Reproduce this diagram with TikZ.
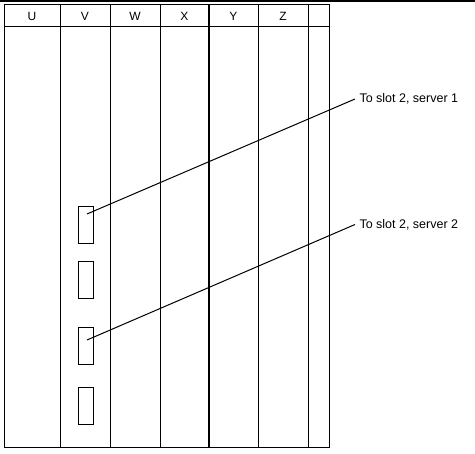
\documentclass[tikz,border=0pt]{standalone}
\usepackage{fontspec}
\setmainfont{Liberation Sans}
\usetikzlibrary{positioning}
\tikzset{
  slotbox/.style={draw, minimum width=15pt, minimum height=37pt, inner sep=0pt},
  lbl/.style={font=\fontsize{12.5}{15}\selectfont, inner ysep=0pt, inner xsep=4pt, anchor=west},
  hdr/.style={font=\fontsize{12}{14}\selectfont, inner sep=0pt},
}
\begin{document}
\begin{tikzpicture}[x=1pt, y=-1pt, line width=1pt]
        \useasboundingbox (0,0) rectangle (475,454);

        % top rule
        \draw[line width=2pt] (0,1) -- (475,1);

        % frame and columns
        \draw (4.5,5) rectangle (329,448);
        \draw (4.5,27) -- (329,27);
        \foreach \x in {60,110,160,258,308}
            \draw (\x,5) -- (\x,448);
        \draw[line width=2pt] (209,5) -- (209,448);

        % column heads
        \foreach \t/\x in {U/32,V/85,W/135,X/184.5,Y/233.5,Z/283}
            \node[hdr] (head\t) at (\x,16.5) {\t};

        % slots
        \foreach \i/\y in {1/225.5,2/280.5,3/346,4/406}
            \node[slotbox] (slot\i) at (85.5,\y) {};
        \coordinate (plug1) at (87,214);
        \coordinate (plug3) at (87,340);

        % labels
        \node[lbl] (toA) at (355,99) {To slot 2, server 1};
        \node[lbl] (toB) at (355,224.5) {To slot 2, server 2};
        \draw (plug1) -- (toA.west);
        \draw (plug3) -- (toB.west);
\end{tikzpicture}
\end{document}
